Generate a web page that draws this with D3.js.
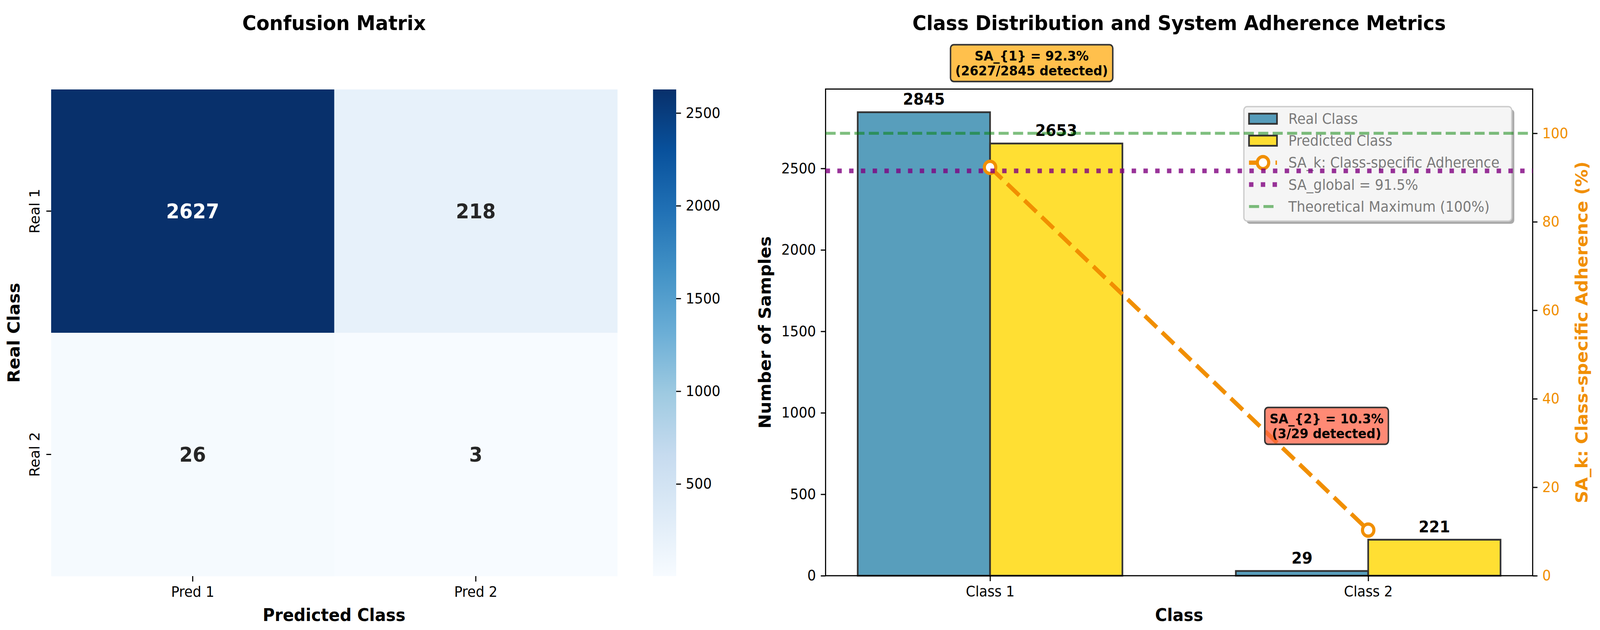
<!DOCTYPE html>
<html>
<head>
<meta charset="utf-8">
<script src="https://cdn.jsdelivr.net/npm/d3@7"></script>
<style>
  html, body { margin: 0; padding: 0; background: #fff; overflow: hidden; }
  svg { display: block; width: 100vw; height: 100vh; }
</style>
</head>
<body>
<script>
// Confusion matrix values.
var matrixRows = ["Real 1", "Real 2"];
var matrixCols = ["Pred 1", "Pred 2"];
var matrixValues = [[2627, 218], [26, 3]];
var colorbarTicks = [500, 1000, 1500, 2000, 2500];

// Class distribution and adherence values.
var classNames = ["Class 1", "Class 2"];
var realCounts = [2845, 29];
var predictedCounts = [2653, 221];
var detectedCounts = [2627, 3];
var adherence = [92.3, 10.3];
var globalAdherence = 91.5;
var theoreticalMax = 100;
var countTicks = [0, 500, 1000, 1500, 2000, 2500];
var adherenceTicks = [0, 20, 40, 60, 80, 100];
var legendLabels = ["Real Class", "Predicted Class", "SA_k: Class-specific Adherence",
                    "SA_global = 91.5%", "Theoretical Maximum (100%)"];
// Anchor of the SA_{k} note boxes (class position, adherence %).
var noteX = [0.11, 0.89];
var noteY = [115.7, 33.7];

var FONT = "DejaVu Sans";
var ORANGE = "#F18F01";
var BLUES = ["#f7fbff", "#deebf7", "#c6dbef", "#9ecae1", "#6baed6",
             "#4292c6", "#2171b5", "#08519c", "#08306b"];

// The drawing is laid out on a 4349x1613 canvas and stretched to fill the window.
var svg = d3.select("body").append("svg")
        .attr("viewBox", "0 0 4349 1613")
        .attr("preserveAspectRatio", "none")
        .attr("font-family", FONT);
svg.append("rect").attr("width", 4349).attr("height", 1613).attr("fill", "#fff");

// Shared axis styling.
var styleAxis = function(g) {
    g.select(".domain").remove();
    g.attr("font-family", FONT).attr("font-size", 37).attr("color", "#000");
    g.selectAll(".tick line").attr("stroke-width", 3);
    g.selectAll(".tick text").attr("fill", "#000");
};
var plain = function(d) { return String(d); };

// ---------------- Confusion matrix ----------------
var hx = d3.scaleBand().domain(matrixCols).range([139, 1678]);
var hy = d3.scaleBand().domain(matrixRows).range([229, 1475]);
var flat = d3.merge(matrixValues);
var vmin = d3.min(flat), vmax = d3.max(flat);
var blues = d3.scaleLinear()
        .domain(BLUES.map(function(c, i) { return vmin + i * (vmax - vmin) / (BLUES.length - 1); }))
        .range(BLUES)
        .clamp(true);

var cells = [];
matrixValues.forEach(function(row, r) {
    row.forEach(function(v, c) {
        cells.push({row: matrixRows[r], col: matrixCols[c], value: v});
    });
});

svg.append("g").selectAll("rect").data(cells).join("rect")
        .attr("x", function(d) { return hx(d.col); })
        .attr("y", function(d) { return hy(d.row); })
        .attr("width", hx.bandwidth() + 0.5)
        .attr("height", hy.bandwidth() + 0.5)
        .attr("fill", function(d) { return blues(d.value); });

svg.append("g").selectAll("text").data(cells).join("text")
        .attr("x", function(d) { return hx(d.col) + hx.bandwidth() / 2; })
        .attr("y", function(d) { return hy(d.row) + hy.bandwidth() / 2 + 19; })
        .attr("text-anchor", "middle")
        .attr("font-size", 52)
        .attr("font-weight", "bold")
        .attr("fill", function(d) { return d.value > (vmin + vmax) / 2 ? "#fff" : "#262626"; })
        .text(function(d) { return d.value; });

var hmLeft = svg.append("g").attr("transform", "translate(139,0)")
        .call(d3.axisLeft(hy).tickSize(13));
styleAxis(hmLeft);
hmLeft.selectAll(".tick text")
        .attr("transform", "rotate(-90)")
        .attr("x", 0).attr("y", -32).attr("dy", null)
        .attr("text-anchor", "middle");

var hmBottom = svg.append("g").attr("transform", "translate(0,1475)")
        .call(d3.axisBottom(hx).tickSize(14).tickPadding(13));
styleAxis(hmBottom);

// Colorbar.
var grad = svg.append("defs").append("linearGradient")
        .attr("id", "cbGrad")
        .attr("x1", 0).attr("y1", 1).attr("x2", 0).attr("y2", 0);
grad.selectAll("stop").data(BLUES).join("stop")
        .attr("offset", function(d, i) { return i / (BLUES.length - 1); })
        .attr("stop-color", function(d) { return d; });
var cb = d3.scaleLinear().domain([vmin, vmax]).range([1475, 229]);
svg.append("rect")
        .attr("x", 1775).attr("y", cb(vmax))
        .attr("width", 63).attr("height", cb(vmin) - cb(vmax))
        .attr("fill", "url(#cbGrad)");
var cbAxis = svg.append("g").attr("transform", "translate(1838,0)")
        .call(d3.axisRight(cb).tickValues(colorbarTicks).tickFormat(plain)
                .tickSize(13).tickPadding(13));
styleAxis(cbAxis);

svg.append("text").attr("x", 908).attr("y", 77)
        .attr("text-anchor", "middle").attr("font-size", 52).attr("font-weight", "bold")
        .text("Confusion Matrix");
svg.append("text").attr("x", 908).attr("y", 1590)
        .attr("text-anchor", "middle").attr("font-size", 44.5).attr("font-weight", "bold")
        .text("Predicted Class");
svg.append("text").attr("transform", "translate(53,852) rotate(-90)")
        .attr("text-anchor", "middle").attr("font-size", 44.5).attr("font-weight", "bold")
        .text("Real Class");

// ---------------- Class distribution ----------------
var barWidth = 0.35;
var span = (classNames.length - 1) + 2 * barWidth;
var x = d3.scaleLinear()
        .domain([-barWidth - 0.05 * span, classNames.length - 1 + barWidth + 0.05 * span])
        .range([2244, 4166]);
var yMax = d3.max(realCounts.concat(predictedCounts)) * 1.05;
var yL = d3.scaleLinear().domain([0, yMax]).range([1474, 228]);
var yR = d3.scaleLinear().domain([0, 110]).range([1474, 228]);

var barSeries = [
    {values: realCounts, offset: -barWidth, fill: "#2E86AB"},
    {values: predictedCounts, offset: 0, fill: "#FFD700"}
];
barSeries.forEach(function(s) {
    svg.append("g").selectAll("rect").data(s.values).join("rect")
            .attr("x", function(d, i) { return x(i + s.offset); })
            .attr("y", function(d) { return yL(d); })
            .attr("width", x(barWidth) - x(0))
            .attr("height", function(d) { return yL(0) - yL(d); })
            .attr("fill", s.fill)
            .attr("fill-opacity", 0.8)
            .attr("stroke", "#333")
            .attr("stroke-width", 4.5);
});

svg.append("rect")
        .attr("x", 2244).attr("y", 228).attr("width", 4166 - 2244).attr("height", 1474 - 228)
        .attr("fill", "none").attr("stroke", "#000").attr("stroke-width", 3);

barSeries.forEach(function(s) {
    svg.append("g").selectAll("text").data(s.values).join("text")
            .attr("x", function(d, i) { return x(i + s.offset + barWidth / 2); })
            .attr("y", function(d) { return yL(d) - 19; })
            .attr("text-anchor", "middle")
            .attr("font-size", 41)
            .attr("font-weight", "bold")
            .text(function(d) { return d; });
});

var leftAxis = svg.append("g").attr("transform", "translate(2244,0)")
        .call(d3.axisLeft(yL).tickValues(countTicks).tickFormat(plain)
                .tickSize(13).tickPadding(13));
styleAxis(leftAxis);
var bottomAxis = svg.append("g").attr("transform", "translate(0,1474)")
        .call(d3.axisBottom(x).tickValues(d3.range(classNames.length))
                .tickFormat(function(i) { return classNames[i]; })
                .tickSize(14).tickPadding(13));
styleAxis(bottomAxis);

svg.append("text").attr("x", 3205).attr("y", 77)
        .attr("text-anchor", "middle").attr("font-size", 52).attr("font-weight", "bold")
        .text("Class Distribution and System Adherence Metrics");
svg.append("text").attr("x", 3205).attr("y", 1590)
        .attr("text-anchor", "middle").attr("font-size", 44.5).attr("font-weight", "bold")
        .text("Class");
svg.append("text").attr("transform", "translate(2095,851) rotate(-90)")
        .attr("text-anchor", "middle").attr("font-size", 44.5).attr("font-weight", "bold")
        .text("Number of Samples");
svg.append("text").attr("transform", "translate(4315,851) rotate(-90)")
        .attr("text-anchor", "middle").attr("font-size", 44.5).attr("font-weight", "bold")
        .attr("fill", ORANGE)
        .text("SA_k: Class-specific Adherence (%)");

// Legend.
var legend = svg.append("g").attr("transform", "translate(3381,273)");
legend.append("rect").attr("x", 7).attr("y", 7).attr("width", 728).attr("height", 293)
        .attr("rx", 9).attr("fill", "#aaa");
legend.append("rect").attr("width", 728).attr("height", 293)
        .attr("rx", 9).attr("fill", "#f5f5f5").attr("stroke", "#ccc").attr("stroke-width", 3.5);
var rowY = function(i) { return 31 + i * 56.2; };
[0, 1].forEach(function(i) {
    legend.append("rect")
            .attr("x", 14).attr("y", rowY(i) - 13).attr("width", 76).attr("height", 26)
            .attr("fill", barSeries[i].fill).attr("fill-opacity", 0.8)
            .attr("stroke", "#333").attr("stroke-width", 4.5);
});
legend.append("line").attr("x1", 14).attr("x2", 90).attr("y1", rowY(2)).attr("y2", rowY(2))
        .attr("stroke", ORANGE).attr("stroke-width", 11).attr("stroke-dasharray", "20,16");
legend.append("circle").attr("cx", 52).attr("cy", rowY(2)).attr("r", 15.5)
        .attr("fill", "#fff").attr("stroke", ORANGE).attr("stroke-width", 8.5);
legend.append("line").attr("x1", 14).attr("x2", 90).attr("y1", rowY(3)).attr("y2", rowY(3))
        .attr("stroke", "purple").attr("stroke-opacity", 0.8)
        .attr("stroke-width", 12).attr("stroke-dasharray", "12,20");
legend.append("line").attr("x1", 14).attr("x2", 90).attr("y1", rowY(4)).attr("y2", rowY(4))
        .attr("stroke", "green").attr("stroke-opacity", 0.5)
        .attr("stroke-width", 7.4).attr("stroke-dasharray", "27.4,11.8");
legend.selectAll("text.lab").data(legendLabels).join("text")
        .attr("class", "lab")
        .attr("x", 121)
        .attr("y", function(d, i) { return rowY(i) + 13; })
        .attr("font-size", 37)
        .attr("fill", "#7a7a7a")
        .text(function(d) { return d; });

// Adherence line and reference lines (secondary axis).
var saLine = d3.line()
        .x(function(d, i) { return x(i); })
        .y(function(d) { return yR(d); });
svg.append("path").datum(adherence)
        .attr("d", saLine)
        .attr("fill", "none")
        .attr("stroke", ORANGE)
        .attr("stroke-width", 11)
        .attr("stroke-dasharray", "44,19");
svg.append("g").selectAll("circle").data(adherence).join("circle")
        .attr("cx", function(d, i) { return x(i); })
        .attr("cy", function(d) { return yR(d); })
        .attr("r", 15.5)
        .attr("fill", "#fff")
        .attr("stroke", ORANGE)
        .attr("stroke-width", 8.5);

svg.append("line")
        .attr("x1", 2244).attr("x2", 4166)
        .attr("y1", yR(theoreticalMax)).attr("y2", yR(theoreticalMax))
        .attr("stroke", "green").attr("stroke-opacity", 0.5)
        .attr("stroke-width", 7.4).attr("stroke-dasharray", "27.4,11.8");
svg.append("line")
        .attr("x1", 2244).attr("x2", 4166)
        .attr("y1", yR(globalAdherence)).attr("y2", yR(globalAdherence))
        .attr("stroke", "purple").attr("stroke-opacity", 0.8)
        .attr("stroke-width", 12).attr("stroke-dasharray", "12,20");

// Note boxes.
var noteFill = [{c: "#FFA500", o: 0.7}, {c: "#FF6347", o: 0.75}];
adherence.forEach(function(sa, i) {
    var g = svg.append("g")
            .attr("transform", "translate(" + x(noteX[i]) + "," + yR(noteY[i]) + ")");
    var t = g.append("text")
            .attr("text-anchor", "middle")
            .attr("font-size", 34)
            .attr("font-weight", "bold");
    t.append("tspan").attr("x", 0).attr("y", -8)
            .text("SA_{" + (i + 1) + "} = " + sa.toFixed(1) + "%");
    t.append("tspan").attr("x", 0).attr("y", 30)
            .text("(" + detectedCounts[i] + "/" + realCounts[i] + " detected)");
    var bb = t.node().getBBox();
    g.insert("rect", "text")
            .attr("x", bb.x - 13).attr("y", bb.y - 9)
            .attr("width", bb.width + 26).attr("height", bb.height + 16)
            .attr("rx", 9)
            .attr("fill", noteFill[i].c).attr("fill-opacity", noteFill[i].o)
            .attr("stroke", "#333").attr("stroke-width", 4);
});

var rightAxis = svg.append("g").attr("transform", "translate(4166,0)")
        .call(d3.axisRight(yR).tickValues(adherenceTicks).tickFormat(plain)
                .tickSize(13).tickPadding(13));
styleAxis(rightAxis);
rightAxis.selectAll(".tick text").attr("fill", ORANGE);
</script>
</body>
</html>
